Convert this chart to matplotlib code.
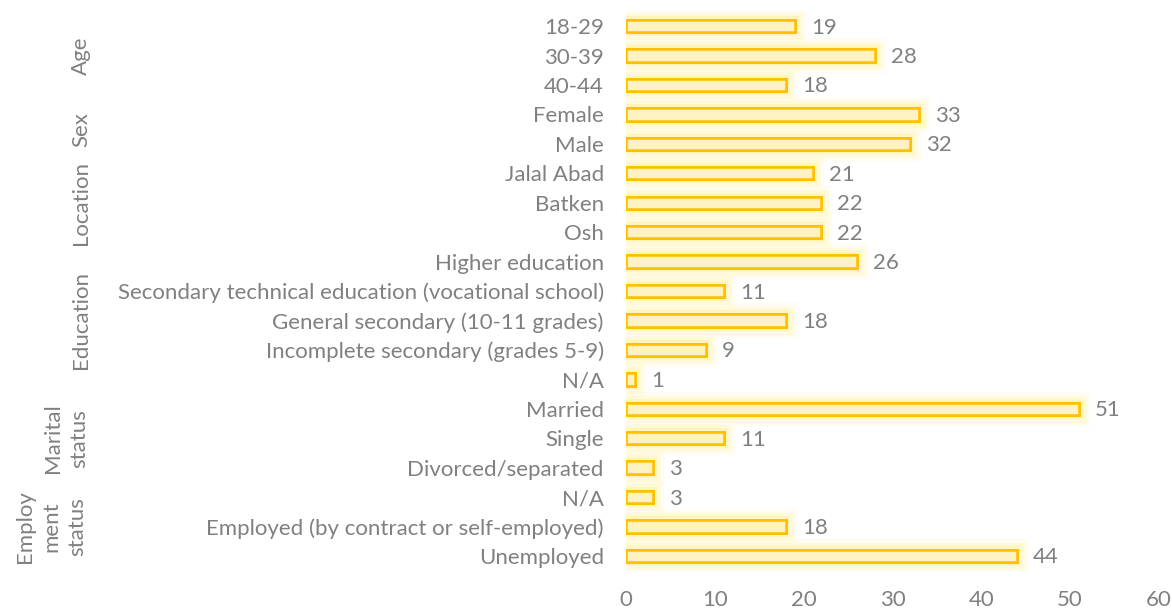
import matplotlib
matplotlib.use("Agg")
import matplotlib.pyplot as plt
import matplotlib.patheffects as pe
from matplotlib.transforms import blended_transform_factory

categories = [
    "18-29", "30-39", "40-44",
    "Female", "Male",
    "Jalal Abad", "Batken", "Osh",
    "Higher education",
    "Secondary technical education (vocational school)",
    "General secondary (10-11 grades)",
    "Incomplete secondary (grades 5-9)",
    "N/A",
    "Married", "Single", "Divorced/separated",
    "N/A",
    "Employed (by contract or self-employed)",
    "Unemployed",
]
values = [19, 28, 18, 33, 32, 21, 22, 22, 26, 11, 18, 9, 1, 51, 11, 3, 3, 18, 44]

groups = ["Age", "Sex", "Location", "Education", "Marital\nstatus", "Employ\nment\nstatus"]
group_sizes = [3, 2, 3, 5, 3, 3]

x_ticks = [0, 10, 20, 30, 40, 50, 60]

TEXT = "#808080"
FILL = "#FFF2C2"
EDGE = "#FFC000"
FS = 16

plt.rcParams["font.family"] = ["Lato", "DejaVu Sans"]

fig = plt.figure(figsize=(11.72, 6.10), dpi=100)
ax = fig.add_axes([626 / 1172, 0.0644, (1159 - 626) / 1172, 0.917])

ypos = list(range(len(categories)))
glow = [
    pe.withStroke(linewidth=16, foreground="#FFF8C0", alpha=0.18),
    pe.withStroke(linewidth=11, foreground="#FFF3A0", alpha=0.25),
    pe.withStroke(linewidth=6, foreground="#FFEE80", alpha=0.35),
    pe.Normal(),
]
bars = ax.barh(ypos, values, height=0.42, color=FILL, edgecolor=EDGE, linewidth=1.8)
for b in bars:
    b.set_path_effects(glow)

for y, v in zip(ypos, values):
    ax.text(v + 1.8, y + 0.05, str(v), va="center", ha="left", color=TEXT, fontsize=FS)

ax.set_ylim(len(categories) - 0.5, -0.5)
ax.set_xlim(0, 60)
ax.set_xticks(x_ticks)
ax.set_yticks(ypos)
ax.set_yticklabels(categories)
ax.tick_params(axis="both", length=0, colors=TEXT, labelsize=FS)
ax.tick_params(axis="y", pad=16)
ax.tick_params(axis="x", pad=14)
for s in ax.spines.values():
    s.set_visible(False)

# Group labels down the left edge
trans = blended_transform_factory(fig.transFigure, ax.transData)
start = 0
for name, n in zip(groups, group_sizes):
    center = start + (n - 1) / 2
    nlines = name.count("\n") + 1
    x_right = 81 / 1172
    x = x_right - (nlines - 1) * 30 / 1172 / 2
    ax.text(x, center, name, transform=trans, rotation=90, ha="center", va="center",
            color=TEXT, fontsize=FS, multialignment="center", linespacing=1.4)
    start += n

fig.savefig("out.png", dpi=100)
